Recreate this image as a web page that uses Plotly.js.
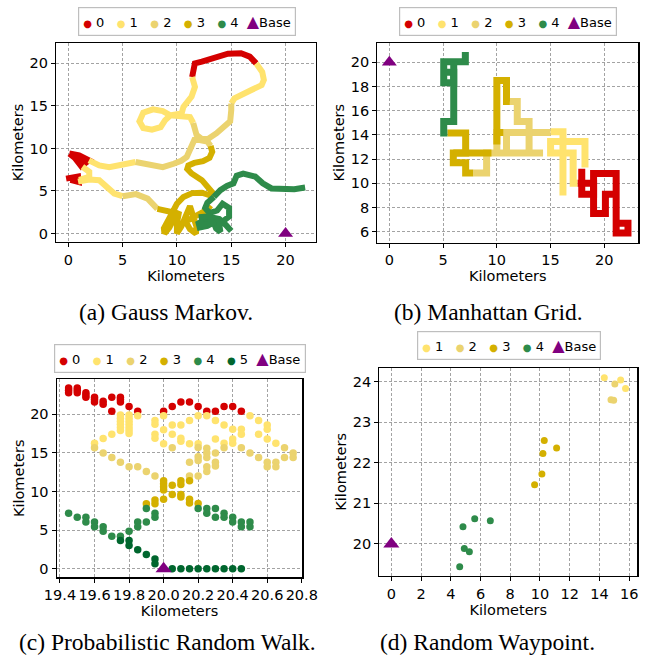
<!DOCTYPE html>
<html><head><meta charset="utf-8">
<script src="https://cdn.plot.ly/plotly-3.0.1.min.js"></script>
<style>body{margin:0;padding:0;background:#fff}#chart{width:651px;height:661px}</style>
</head><body><div id="chart"></div>
<script>
// ---------- colours / labels ----------
const seriesColors = ['#d40000', '#ffe36e', '#ebd36f', '#d4b000', '#2e8b4a', '#00662e'];
const baseColor = '#800080';
const legendLabelsA = ['0', '1', '2', '3', '4'];
const legendLabelsB = ['0', '1', '2', '3', '4'];
const legendLabelsC = ['0', '1', '2', '3', '4', '5'];
const legendLabelsD = ['1', '2', '3', '4'];
const baseLabel = 'Base';
const captions = ['(a) Gauss Markov.', '(b) Manhattan Grid.', '(c) Probabilistic Random Walk.', '(d) Random Waypoint.'];

// ---------- (a) Gauss Markov trajectories (km) ----------
const gmX0 = [11.4,11.5,11.65,12.3,13.5,14.7,15.9,16.7,17.3,null,0.1,1.0,1.9,1.2,0.6,0.1,null,0.6,1.5,null,-0.2,0.9,0.95,0.2];
const gmY0 = [18.4,19.6,20.0,20.2,20.6,21.15,21.2,20.8,20.0,null,9.4,9.2,8.6,7.9,8.9,9.4,null,9.0,8.5,null,6.45,6.7,6.05,6.3];
const gmX1 = [11.4,11.66,11.35,10.6,10.43,9.4,8.9,8.5,7.7,6.9,6.55,6.9,7.8,8.7,9.4,10.4,11.2,11.5,null,17.3,17.85,18.0,17.8,16.9,15.8,15.3,15.0,null,1.9,2.85,3.77,5.0,6.2,null,1.3,1.93,1.93,1.0,null,0.9,1.93,2.85,3.47,4.23,5.0];
const gmY1 = [18.4,17.25,16.1,14.9,14.1,13.9,13.3,12.5,12.2,12.4,13.2,14.2,14.6,14.4,13.9,13.85,13.7,13.0,null,20.0,19.0,18.05,17.45,16.9,16.3,15.9,15.3,null,8.6,8.0,7.8,8.1,8.4,null,7.85,7.26,6.67,6.3,null,6.1,6.35,6.27,5.49,4.7,4.39];
const gmX2 = [11.5,11.6,11.8,12.3,12.9,13.65,14.4,14.9,15.0,15.0,null,6.2,7.4,8.7,9.7,10.4,10.9,11.2,11.6,12.1,12.8,13.1,null,5.0,6.23,7.3,7.9,8.2];
const gmY2 = [13.0,12.2,11.6,11.1,11.15,11.8,12.55,13.2,14.5,15.3,null,8.4,8.1,7.8,8.2,8.55,9.0,10.0,11.0,11.0,10.8,10.3,null,4.39,4.63,4.1,3.3,2.9];
const gmX3 = [13.1,13.25,13.0,12.4,11.6,11.05,10.95,11.35,12.3,12.9,13.35,13.4,null,8.2,9.0,9.6,10.0,10.6,11.4,12.3,13.0,13.4,null,9.6,9.1,8.8,8.85,9.3,9.7,10.2,10.0,10.0,10.4,10.8,11.2,11.5,11.8,11.75,11.2,10.8,11.5,12.3,12.8,13.1];
const gmY3 = [10.3,9.6,8.9,8.5,8.3,8.0,7.6,7.06,6.27,5.5,4.7,4.3,null,2.9,2.75,2.5,3.5,4.3,4.75,4.8,4.5,4.3,null,2.5,1.5,0.6,0.0,0.7,1.7,2.6,1.2,0.0,0.8,2.0,3.2,2.0,0.8,0.0,0.5,1.4,1.9,2.3,2.8,3.3];
const gmX4 = [13.4,14.0,14.6,15.2,15.5,16.1,17.2,17.9,18.7,19.9,20.8,21.8,null,13.4,12.8,12.6,13.0,13.7,14.2,14.8,14.8,14.2,13.5,12.6,12.0,12.1,12.8,13.4,13.9,14.0,13.6,13.2,13.9,14.5,15.0,null,12.0,12.9,13.3,12.3,12.1];
const gmY4 = [4.3,5.1,5.6,5.9,6.8,7.05,6.7,5.9,5.3,5.2,5.2,5.4,null,4.3,3.6,3.0,2.4,2.7,3.5,3.0,2.0,1.4,1.6,1.6,1.2,0.7,0.9,1.3,1.0,0.2,0.6,1.9,1.7,1.0,0.3,null,1.9,2.0,1.2,1.0,1.6];
const gmBaseX = [20];
const gmBaseY = [0];

// ---------- (b) Manhattan Grid trajectories (km) ----------
const mgX0 = [17.9,17.9,19.0,19.0,21.1,21.1,22.2,22.2,21.1,null,21.1,20.1,20.1,19.0,19.0,17.5];
const mgY0 = [11.2,9.1,9.1,10.8,10.8,5.9,5.9,6.7,6.7,null,9.1,9.1,7.5,7.5,10.0,10.0];
const mgX1 = [15.0,16.15,16.15,null,18.2,18.2,15.0,15.0,17.1,17.1,17.5];
const mgY1 = [14.25,14.25,9.0,null,11.3,13.45,13.45,12.5,12.5,10.0,10.0];
const mgX2 = [7.8,9.05,9.05,14.3,null,10.0,10.0,15.0,null,10.9,10.9,null,10.9,11.9,11.9,13.0,13.0];
const mgY2 = [10.85,10.85,12.5,12.5,null,12.5,14.2,14.2,null,14.2,12.5,null,16.75,16.75,15.1,15.1,12.5];
const mgX3 = [5.4,7.1,7.1,5.95,5.95,7.1,7.1,7.8,null,5.95,9.5,null,10.0,10.0,10.9,10.9,11.2,null,10.0,10.6];
const mgY3 = [14.15,14.15,12.5,12.5,11.7,11.7,10.85,10.85,null,12.5,12.5,null,13.2,18.5,18.5,16.75,16.75,null,14.2,14.2];
const mgX4 = [7.07,7.07,5.06,5.06,5.99,5.99,5.06,null,5.99,5.99,5.06,5.06,5.4];
const mgY4 = [20.85,20.05,20.05,18.3,18.3,19.17,19.17,null,20.05,15.1,15.1,14.15,14.15];
const mgBaseX = [0];
const mgBaseY = [20];

// ---------- (c) Probabilistic Random Walk positions (km) ----------
const prX0 = [19.45,19.45,19.45,19.5,19.5,19.5,19.55,19.55,19.55,19.6,19.6,19.6,19.65,19.65,19.7,19.7,19.75,19.75,19.75,19.8,19.85,20.0,20.05,20.1,20.15,20.2,20.25,20.3,20.35,20.4,20.45];
const prY0 = [23.4,23.1,22.8,23.4,23.1,22.8,22.8,22.5,22.2,22.2,21.9,21.6,21.7,21.3,22.2,20.4,22.2,21.9,21.6,21.0,20.4,20.4,21.0,21.6,21.6,21.0,20.4,20.4,21.0,21.0,20.4];
const prX1 = [19.6,19.65,19.7,19.75,19.75,19.75,19.75,19.75,19.75,19.8,19.8,19.8,19.8,19.8,19.8,19.8,19.85,19.95,19.95,19.95,19.95,20.0,20.0,20.0,20.05,20.05,20.1,20.1,20.1,20.15,20.15,20.2,20.2,20.25,20.3,20.3,20.35,20.35,20.4,20.4,20.4,20.45,20.45,20.5,20.55,20.55,20.6,20.6,20.6,20.65];
const prY1 = [16.25,16.85,17.4,19.9,19.5,19.1,18.7,18.3,17.9,19.9,19.5,19.1,18.7,18.3,17.9,17.5,19.8,19.2,18.7,17.4,16.9,19.8,18.0,16.2,18.6,17.4,18.6,16.9,16.5,19.2,16.2,19.8,16.2,19.8,19.2,16.8,18.6,16.25,18.05,16.8,16.25,18.05,17.4,19.8,19.2,17.4,18.6,18.05,16.8,16.25];
const prX2 = [19.6,19.65,19.7,19.75,19.8,19.85,19.9,19.95,20.05,20.15,20.15,20.2,20.2,20.2,20.2,20.25,20.25,20.25,20.25,20.25,20.3,20.3,20.3,20.35,20.45,20.5,20.55,20.6,20.6,20.65,20.65,20.7,20.7,20.75,20.75];
const prY2 = [15.65,15.0,14.4,13.8,13.2,13.2,12.6,12.0,15.65,13.8,12.0,15.7,14.5,14.0,12.0,15.6,15.0,14.4,13.2,12.6,15.0,13.8,13.3,15.65,15.65,15.0,14.4,13.8,13.2,13.8,13.2,15.65,14.4,15.0,14.4];
const prX3 = [19.9,19.95,19.95,20.0,20.0,20.0,20.0,20.0,20.05,20.05,20.1,20.1,20.1,20.1,20.15,20.15,20.15,20.2];
const prY3 = [8.4,8.9,8.4,11.4,11.0,10.6,10.2,9.0,10.8,9.6,11.4,10.9,9.6,9.3,11.4,9.0,8.5,8.45];
const prX4 = [19.45,19.5,19.55,19.55,19.6,19.6,19.65,19.65,19.7,19.75,19.8,19.85,19.85,19.9,19.9,19.95,19.95,20.2,20.25,20.25,20.3,20.3,20.35,20.35,20.4,20.4,20.45,20.45,20.5,20.5];
const prY4 = [7.2,6.65,6.65,6.05,6.05,5.45,5.45,4.85,4.2,4.2,4.85,6.05,5.45,7.8,6.05,7.2,6.65,7.8,7.8,7.2,7.8,6.65,7.2,6.65,6.65,6.05,6.05,5.45,6.05,5.45];
const prX5 = [19.75,19.8,19.8,19.85,19.9,19.95,19.95,20.05,20.1,20.15,20.2,20.25,20.3,20.35,20.4,20.45];
const prY5 = [3.65,3.65,3.0,2.45,1.85,1.25,0.65,0,0,0,0,0,0,0,0,0];
const prBaseX = [20.0];
const prBaseY = [0];

// ---------- (d) Random Waypoint positions (km) ----------
const rwX1 = [14.33,15.43,15.76];
const rwY1 = [24.09,24.04,23.83];
const rwX2 = [15.04,14.78,14.96];
const rwY2 = [23.94,23.55,23.54];
const rwX3 = [10.29,10.2,11.12,10.13,9.64];
const rwY3 = [22.55,22.23,22.36,21.72,21.46];
const rwX4 = [4.82,5.61,6.66,4.91,5.25,4.6];
const rwY4 = [20.42,20.62,20.57,19.89,19.81,19.44];
const rwBaseX = [0];
const rwBaseY = [20];

// ---------- build traces ----------
const FONT = 'DejaVu Sans';
const traces = [];
function lineTrace(x, y, c, xa, ya, w) {
  traces.push({type: 'scatter', mode: 'lines', x: x, y: y, xaxis: xa, yaxis: ya,
    connectgaps: false, showlegend: false, hoverinfo: 'skip',
    line: {color: seriesColors[c], width: w}});
}
function dotTrace(x, y, c, xa, ya, s) {
  traces.push({type: 'scatter', mode: 'markers', x: x, y: y, xaxis: xa, yaxis: ya,
    showlegend: false, hoverinfo: 'skip',
    marker: {color: seriesColors[c], size: s, line: {width: 0}}});
}
function baseTrace(x, y, xa, ya, s) {
  traces.push({type: 'scatter', mode: 'markers', x: x, y: y, xaxis: xa, yaxis: ya,
    showlegend: false, hoverinfo: 'skip',
    marker: {color: baseColor, size: s, symbol: 'triangle-up', line: {width: 0}}});
}
const gmXs = [gmX0, gmX1, gmX2, gmX3, gmX4], gmYs = [gmY0, gmY1, gmY2, gmY3, gmY4];
gmXs.forEach((x, i) => lineTrace(x, gmYs[i], i, 'x', 'y', 6));
baseTrace(gmBaseX, gmBaseY, 'x', 'y', 13);

const mgXs = [mgX0, mgX1, mgX2, mgX3, mgX4], mgYs = [mgY0, mgY1, mgY2, mgY3, mgY4];
mgXs.forEach((x, i) => lineTrace(x, mgYs[i], i, 'x2', 'y2', 7));
baseTrace(mgBaseX, mgBaseY, 'x2', 'y2', 13);

const prXs = [prX0, prX1, prX2, prX3, prX4, prX5], prYs = [prY0, prY1, prY2, prY3, prY4, prY5];
prXs.forEach((x, i) => dotTrace(x, prYs[i], i, 'x3', 'y3', 7.5));
baseTrace(prBaseX, prBaseY, 'x3', 'y3', 14);

const rwXs = [rwX1, rwX2, rwX3, rwX4], rwYs = [rwY1, rwY2, rwY3, rwY4];
rwXs.forEach((x, i) => dotTrace(x, rwYs[i], i + 1, 'x4', 'y4', 7));
baseTrace(rwBaseX, rwBaseY, 'x4', 'y4', 14);

// ---------- axes ----------
const W = 651, H = 661;
function xAxis(l, r, range, tickvals, anchor, fmt) {
  return {domain: [l / W, r / W], range: range, anchor: anchor, tickmode: 'array', tickvals: tickvals,
    tickformat: fmt || '', tickangle: 0,
    showline: true, mirror: true, linecolor: '#000', linewidth: 1.2,
    ticks: 'outside', ticklen: 4, tickcolor: '#000', tickwidth: 1,
    showgrid: true, gridcolor: '#8c8c8c', gridwidth: 0.8, griddash: '3px,2px', zeroline: false,
    tickfont: {family: FONT, size: 14.5, color: '#000'},
    title: {text: 'Kilometers', font: {family: FONT, size: 14.5, color: '#000'}, standoff: 1}};
}
function yAxis(t, b, range, tickvals, anchor) {
  return {domain: [1 - b / H, 1 - t / H], range: range, anchor: anchor, tickmode: 'array', tickvals: tickvals,
    showline: true, mirror: true, linecolor: '#000', linewidth: 1.2,
    ticks: 'outside', ticklen: 4, tickcolor: '#000', tickwidth: 1,
    showgrid: true, gridcolor: '#8c8c8c', gridwidth: 0.8, griddash: '3px,2px', zeroline: false,
    tickfont: {family: FONT, size: 14.5, color: '#000'},
    title: {text: 'Kilometers', font: {family: FONT, size: 14.5, color: '#000'}, standoff: 2}};
}

// ---------- legends (as framed text rows) and captions ----------
const NB = '\u00a0';
function legendText(labels, offset) {
  const items = labels.map((lab, i) =>
    '<span style="color:' + seriesColors[i + offset] + ';font-size:10px">●</span>' + NB + lab);
  return items.join(NB + NB + NB) + NB + NB +
    '<span style="color:' + baseColor + ';font-size:16px">▲</span>' + baseLabel;
}
function legendAnn(text, cx, cy) {
  return {xref: 'paper', yref: 'paper', x: cx / W, y: 1 - cy / H, xanchor: 'center', yanchor: 'middle',
    text: text, showarrow: false, font: {family: FONT, size: 13, color: '#000'},
    bgcolor: 'rgba(255,255,255,1)', bordercolor: 'rgb(190,190,190)', borderwidth: 1.2, borderpad: 4};
}
function captionAnn(text, cx, cy) {
  return {xref: 'paper', yref: 'paper', x: cx / W, y: 1 - cy / H, xanchor: 'center', yanchor: 'middle',
    text: text, showarrow: false, font: {family: 'Liberation Serif', size: 23.5, color: '#000'}};
}

const layout = {
  width: W, height: H, margin: {l: 0, r: 0, t: 0, b: 0},
  paper_bgcolor: '#fff', plot_bgcolor: '#fff', showlegend: false, hovermode: false,
  font: {family: FONT, color: '#000'},
  xaxis: xAxis(56, 316, [-1.13, 22.8], [0, 5, 10, 15, 20], 'y'),
  yaxis: yAxis(43, 242, [-1.0, 22.4], [0, 5, 10, 15, 20], 'x'),
  xaxis2: xAxis(377.3, 638.3, [-1.12, 23.16], [0, 5, 10, 15, 20], 'y2'),
  yaxis2: yAxis(42.7, 242.7, [5.09, 21.62], [6, 8, 10, 12, 14, 16, 18, 20], 'x2'),
  xaxis3: xAxis(56.7, 302.3, [19.381, 20.803], [19.4, 19.6, 19.8, 20.0, 20.2, 20.4, 20.6, 20.8], 'y3', '.1f'),
  yaxis3: yAxis(379.3, 577.3, [-1.11, 24.53], [0, 5, 10, 15, 20], 'x3'),
  xaxis4: xAxis(379.3, 637.3, [-0.81, 16.55], [0, 2, 4, 6, 8, 10, 12, 14, 16], 'y4'),
  yaxis4: yAxis(367.7, 576, [19.21, 24.34], [20, 21, 22, 23, 24], 'x4'),
  annotations: [
    legendAnn(legendText(legendLabelsA, 0), 187, 21.5),
    legendAnn(legendText(legendLabelsB, 0), 507.5, 21.5),
    legendAnn(legendText(legendLabelsC, 0), 179.5, 358),
    legendAnn(legendText(legendLabelsD, 1), 508.5, 345.5),
    captionAnn(captions[0], 166, 312),
    captionAnn(captions[1], 488, 312),
    captionAnn(captions[2], 167, 642),
    captionAnn(captions[3], 487, 642)
  ]
};

Plotly.newPlot('chart', traces, layout, {staticPlot: true, displayModeBar: false});
</script></body></html>
